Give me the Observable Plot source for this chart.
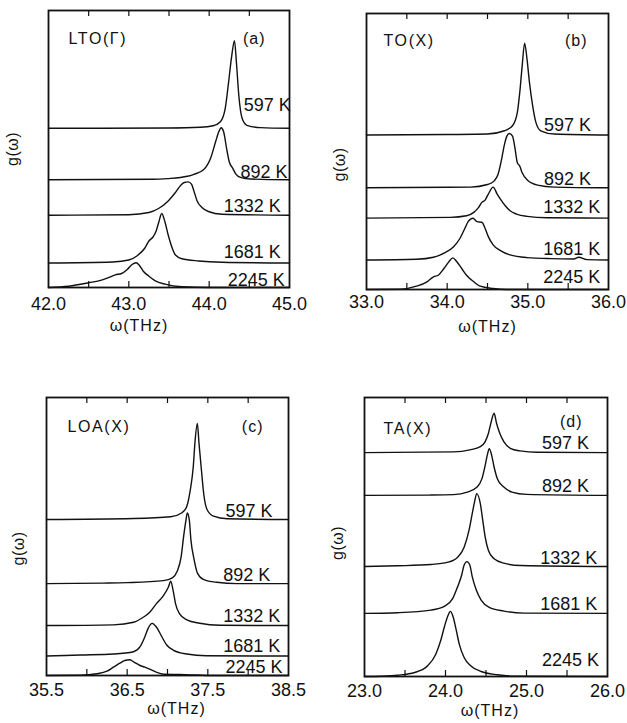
<!DOCTYPE html>
<html><head><meta charset="utf-8">
<script src="https://cdn.jsdelivr.net/npm/d3@7"></script>
<script src="https://cdn.jsdelivr.net/npm/@observablehq/plot@0.6"></script>
<style>
body{margin:0;background:#fff;}
#wrap{position:relative;width:627px;height:723px;background:#fff;overflow:hidden;}
.panel{position:absolute;}
</style></head><body><div id="wrap"></div>
<script>
const temps = ["597 K", "892 K", "1332 K", "1681 K", "2245 K"];

// ---- panel (a) LTO(Γ): [ω (THz), g above its baseline (arb. units)]
const a597 = [[42,0],[43.5,0.03],[43.89,0.1],[44.05,0.26],[44.14,0.66],[44.2,2.0],[44.24,4.5],[44.28,7.2],[44.315,8.76],[44.34,6.5],[44.37,3.2],[44.41,1.0],[44.47,0.3],[44.64,0.07],[45,0]];
const a892 = [[42,0],[43.3,0.05],[43.48,0.12],[43.73,0.35],[43.81,0.55],[43.93,1.0],[44.02,2.2],[44.08,3.8],[44.12,4.8],[44.15,5.2],[44.18,4.8],[44.22,3.0],[44.25,1.8],[44.29,1.2],[44.33,0.6],[44.39,0.25],[44.52,0.08],[45,0]];
const a1332 = [[42,0],[43.0,0.05],[43.25,0.27],[43.37,0.67],[43.49,1.43],[43.58,2.27],[43.64,2.93],[43.69,3.27],[43.74,3.33],[43.78,3.1],[43.81,2.43],[43.85,1.43],[43.91,0.77],[43.99,0.37],[44.16,0.1],[45,0]];
const a1681 = [[42,0],[42.8,0.1],[43.0,0.3],[43.1,0.7],[43.2,1.5],[43.25,2.2],[43.3,2.6],[43.34,3.2],[43.37,4.0],[43.41,4.95],[43.45,4.1],[43.49,2.8],[43.54,1.5],[43.58,0.8],[43.66,0.43],[43.87,0.2],[44.16,0.07],[45,0]];
const a2245 = [[42,0],[42.25,0.13],[42.5,0.47],[42.66,0.73],[42.77,1.07],[42.83,1.27],[42.91,1.4],[42.98,1.8],[43.04,2.3],[43.09,2.47],[43.13,2.23],[43.18,1.63],[43.25,1.13],[43.33,0.67],[43.45,0.33],[43.66,0.07],[44.0,0],[45,0]];
const aOffsets = [15.92, 10.77, 7.23, 2.45, 0];
const aLabelX = [44.43, 44.39, 44.18, 44.18, 44.23];
const aLabelY = [18.2, 11.5, 8.1, 3.5, 0.7];
const aTicks = [42, 43, 44, 45];
const aMinor = [42.5, 43, 43.5, 44, 44.5];

// ---- panel (b) TO(X)
const b597 = [[33,0],[34.0,0.05],[34.5,0.1],[34.71,0.43],[34.81,0.93],[34.87,2.27],[34.9,4.27],[34.93,6.93],[34.96,9.2],[34.99,7.6],[35.02,5.27],[35.06,2.93],[35.1,1.27],[35.16,0.43],[35.33,0.1],[36,0]];
const b892 = [[33,0],[34.0,0.05],[34.29,0.07],[34.5,0.33],[34.58,0.67],[34.63,1.33],[34.67,2.67],[34.71,4.33],[34.74,5.17],[34.77,5.43],[34.81,5.17],[34.84,4.0],[34.87,2.5],[34.9,2.17],[34.93,1.5],[35.0,0.73],[35.12,0.27],[35.33,0.07],[36,0]];
const b1332 = [[33,0],[34.04,0.07],[34.24,0.23],[34.33,0.57],[34.39,1.07],[34.43,1.57],[34.47,1.8],[34.51,2.4],[34.57,3.1],[34.62,2.4],[34.66,1.9],[34.72,1.23],[34.78,0.73],[34.86,0.4],[34.99,0.17],[35.24,0.03],[36,0]];
const b1681 = [[33,0],[33.62,0.07],[33.83,0.27],[33.96,0.67],[34.08,1.33],[34.16,2.17],[34.22,3.17],[34.26,3.83],[34.32,4.17],[34.37,3.83],[34.43,3.77],[34.47,3.17],[34.51,2.33],[34.57,1.5],[34.66,0.93],[34.78,0.5],[34.99,0.23],[35.28,0.13],[35.57,0.1],[35.63,0.27],[35.73,0.03],[36,0]];
const b2245 = [[33,0],[33.42,0.03],[33.62,0.33],[33.75,0.77],[33.83,1.27],[33.89,1.43],[33.96,2.1],[34.02,2.77],[34.07,3.17],[34.12,2.77],[34.18,2.1],[34.24,1.43],[34.33,0.77],[34.41,0.33],[34.57,0.1],[34.74,0],[36,0]];
const bOffsets = [15.46, 10.18, 7.15, 2.96, 0];
const bLabelX = [35.2, 35.2, 35.19, 35.19, 35.19];
const bLabelY = [16.4, 11.0, 8.2, 4.0, 1.2];
const bTicks = [33, 34, 35, 36];
const bMinor = [33.5, 34, 34.5, 35, 35.5];

// ---- panel (c) LOA(X)
const c597 = [[35.5,0],[36.58,0.1],[37.04,0.27],[37.18,0.67],[37.24,1.33],[37.28,2.83],[37.32,5.33],[37.34,7.67],[37.37,9.6],[37.39,7.67],[37.42,5.0],[37.45,2.5],[37.49,1.0],[37.57,0.33],[37.74,0.07],[38.5,0]];
const c892 = [[35.5,0],[36.2,0.05],[36.5,0.1],[36.95,0.3],[37.06,0.57],[37.12,1.23],[37.17,2.73],[37.2,4.73],[37.23,6.4],[37.245,7.07],[37.27,6.4],[37.29,4.4],[37.33,2.4],[37.37,1.07],[37.45,0.4],[37.61,0.13],[37.86,0],[38.5,0]];
const c1332 = [[35.5,0],[36.33,0.07],[36.58,0.33],[36.7,0.83],[36.78,1.33],[36.86,2.17],[36.95,3.0],[37.01,3.83],[37.04,4.43],[37.07,3.5],[37.1,2.17],[37.15,1.17],[37.24,0.57],[37.4,0.23],[37.65,0.03],[38.5,0]];
const c1681 = [[35.5,0],[35.92,0.1],[36.33,0.2],[36.58,0.43],[36.66,0.93],[36.72,1.93],[36.76,2.77],[36.81,3.27],[36.86,2.93],[36.93,1.93],[36.99,1.1],[37.07,0.6],[37.24,0.2],[37.48,0.03],[38.5,0]];
const c2245 = [[35.5,0],[35.92,0.03],[36.12,0.17],[36.25,0.43],[36.33,0.83],[36.41,1.23],[36.47,1.5],[36.53,1.57],[36.58,1.37],[36.66,1.0],[36.72,0.83],[36.78,0.63],[36.86,0.33],[36.95,0.13],[37.15,0.1],[37.36,0.05],[37.6,0],[38.5,0]];
const cOffsets = [15.62, 9.2, 5.0, 1.95, 0];
const cLabelX = [37.72, 37.69, 37.69, 37.69, 37.72];
const cLabelY = [16.4, 10.0, 5.9, 2.9, 0.8];
const cTicks = [35.5, 36.5, 37.5, 38.5];
const cMinor = [36, 36.5, 37, 37.5, 38];

// ---- panel (d) TA(X)
const d597 = [[23,0],[24.1,0.07],[24.3,0.27],[24.43,0.6],[24.49,1.1],[24.53,1.93],[24.56,2.93],[24.6,3.93],[24.63,2.93],[24.67,1.93],[24.72,1.1],[24.8,0.43],[24.92,0.17],[25.13,0.03],[26,0]];
const d892 = [[23,0],[23.8,0.03],[24.1,0.07],[24.27,0.33],[24.39,0.83],[24.45,1.67],[24.49,3.0],[24.52,4.17],[24.54,4.67],[24.57,4.0],[24.6,2.83],[24.64,1.67],[24.72,0.83],[24.82,0.33],[25.0,0.1],[26,0]];
const d1332 = [[23,0],[23.41,0.07],[23.82,0.2],[24.03,0.43],[24.15,0.93],[24.23,1.93],[24.29,3.6],[24.33,5.27],[24.36,6.5],[24.385,7.27],[24.43,6.27],[24.46,4.6],[24.49,2.93],[24.53,1.6],[24.6,0.77],[24.72,0.33],[24.93,0.1],[26,0]];
const d1681 = [[23,0],[23.41,0.07],[23.82,0.33],[23.99,0.73],[24.09,1.5],[24.15,2.67],[24.2,3.83],[24.23,4.83],[24.265,5.17],[24.3,4.83],[24.33,3.67],[24.38,2.33],[24.44,1.33],[24.54,0.6],[24.72,0.23],[24.97,0.03],[26,0]];
const d2245 = [[23,0],[23.2,0.03],[23.41,0.13],[23.62,0.4],[23.78,1.07],[23.88,2.23],[23.94,3.57],[23.99,5.07],[24.03,6.07],[24.06,6.5],[24.09,6.07],[24.13,4.73],[24.17,3.23],[24.23,1.9],[24.31,1.07],[24.44,0.5],[24.64,0.17],[24.85,0.03],[26,0]];
const dOffsets = [22.35, 18.08, 10.98, 6.3, 0];
const dLabelX = [25.19, 25.19, 25.17, 25.17, 25.19];
const dLabelY = [23.28, 18.95, 11.85, 7.18, 1.58];
const dTicks = [23, 24, 25, 26];
const dMinor = [23.5, 24, 24.5, 25, 25.5];

const INK = "#111";
const FONT = "'Liberation Sans', Arial, sans-serif";
const fmt = d3.format(".1f");

function panel(p) {
  const fh = p.height - p.mt - p.mb;
  const rows = p.curves.flatMap((c, i) => c.map(([w, g]) => ({w, g: g + p.offsets[i], t: temps[i]})));
  const chart = Plot.plot({
    width: p.width, height: p.height,
    marginLeft: p.ml, marginRight: p.mr, marginTop: p.mt, marginBottom: p.mb,
    x: {domain: [p.ticks[0], p.ticks[p.ticks.length - 1]], label: null, axis: null},
    y: {domain: [0, p.yMax], axis: null},
    style: {fontFamily: FONT, color: INK, background: "white", overflow: "visible"},
    marks: [
      Plot.ruleX(p.minor, {insetTop: fh - 6, stroke: INK, strokeWidth: 1.2}),
      Plot.ruleX(p.minor, {insetBottom: fh - 6, stroke: INK, strokeWidth: 1.2}),
      Plot.text(p.ticks, {x: d => d, text: d => fmt(d), frameAnchor: "bottom", textAnchor: "middle", lineAnchor: "middle", dy: p.tickDy, fontSize: 18, fill: INK}),
      Plot.line(rows, {x: "w", y: "g", z: "t", stroke: INK, strokeWidth: 1.4, curve: "monotone-x"}),
      Plot.frame({stroke: INK, strokeWidth: 1.8}),
      Plot.text(temps, {x: (d, i) => p.labelX[i], y: (d, i) => p.labelY[i], text: d => d, textAnchor: "start", lineAnchor: "middle", fontSize: 18, fill: INK}),
      Plot.text([p.title], {frameAnchor: "top-left", lineAnchor: "middle", dx: p.titleDx, dy: p.titleDy, textAnchor: "start", fontSize: 16, fill: INK}),
      Plot.text([p.tag], {frameAnchor: "top-right", lineAnchor: "middle", dx: p.tagDx, dy: p.tagDy, textAnchor: "end", fontSize: 16, fill: INK}),
      Plot.text(["ω(THz)"], {frameAnchor: "bottom", textAnchor: "middle", lineAnchor: "middle", dx: p.xlDx, dy: p.xlDy, fontSize: 16, fill: INK}),
      Plot.text(["g(ω)"], {frameAnchor: "left", textAnchor: "middle", lineAnchor: "middle", rotate: -90, dx: p.ylDx, dy: p.ylDy, fontSize: 16, fill: INK})
    ]
  });
  d3.select(chart).selectAll("text").each(function() {
    const s = this.textContent;
    if (s === p.title) this.style.letterSpacing = "1.6px";
    else if (s === p.tag) this.style.letterSpacing = "1px";
    else if (s === "ω(THz)") this.style.letterSpacing = "1px";
    else if (s === "g(ω)") this.style.letterSpacing = "0.5px";
  });
  const div = document.createElement("div");
  div.className = "panel";
  div.style.left = p.left + "px";
  div.style.top = p.top + "px";
  div.appendChild(chart);
  document.getElementById("wrap").appendChild(div);
}

panel({left: 0, top: 0, width: 313, height: 340, ml: 48, mr: 24, mt: 10, mb: 53, yMax: 27.7,
  curves: [a597, a892, a1332, a1681, a2245], offsets: aOffsets, labelX: aLabelX, labelY: aLabelY,
  ticks: aTicks, minor: aMinor, tickDy: 17, title: "LTO(Γ)", tag: "(a)",
  titleDx: 20, titleDy: 28, tagDx: -24, tagDy: 28, xlDx: -30, xlDy: 38, ylDx: -36, ylDy: 0});
panel({left: 313, top: 0, width: 314, height: 340, ml: 53, mr: 19, mt: 13, mb: 51, yMax: 27.63,
  curves: [b597, b892, b1332, b1681, b2245], offsets: bOffsets, labelX: bLabelX, labelY: bLabelY,
  ticks: bTicks, minor: bMinor, tickDy: 13, title: "TO(X)", tag: "(b)",
  titleDx: 17, titleDy: 27, tagDx: -21, tagDy: 27, xlDx: 0, xlDy: 37, ylDx: -27, ylDy: 13});
panel({left: 0, top: 340, width: 313, height: 383, ml: 46, mr: 25, mt: 57, mb: 48, yMax: 27.83,
  curves: [c597, c892, c1332, c1681, c2245], offsets: cOffsets, labelX: cLabelX, labelY: cLabelY,
  ticks: cTicks, minor: cMinor, tickDy: 15, title: "LOA(X)", tag: "(c)",
  titleDx: 21, titleDy: 29, tagDx: -25, tagDy: 29, xlDx: 9, xlDy: 33, ylDx: -28, ylDy: 12});
panel({left: 313, top: 340, width: 314, height: 383, ml: 51, mr: 20, mt: 57, mb: 47, yMax: 27.85,
  curves: [d597, d892, d1332, d1681, d2245], offsets: dOffsets, labelX: dLabelX, labelY: dLabelY,
  ticks: dTicks, minor: dMinor, tickDy: 15, title: "TA(X)", tag: "(d)",
  titleDx: 19, titleDy: 31, tagDx: -25, tagDy: 24, xlDx: 4, xlDy: 34, ylDx: -27, ylDy: 6});
</script></body></html>
